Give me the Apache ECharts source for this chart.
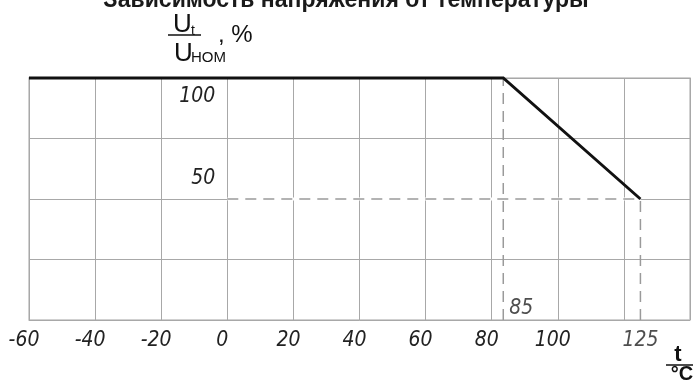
<!DOCTYPE html>
<html><head><meta charset="utf-8">
<script src="https://cdn.jsdelivr.net/npm/echarts@6/dist/echarts.min.js"></script>
<style>html,body{margin:0;padding:0;background:#fff}#c{width:696px;height:381px}</style>
</head><body><div id="c"></div>
<script>
// ---- data ----
const titleText = 'Зависимость напряжения от температуры';
const xMin = -60, xMax = 140, xStep = 20;
const yMin = 0, yMax = 100, yStep = 25;
const xHiddenTicks = [120, 140];
const yShownTicks = [50, 100];
const curveT = [-60, 83.5, 125];
const curveU = [100, 100, 50];
const guide50T = [0, 125];
const guide50U = [50, 50];
const guideKneeT = [83.5, 83.5];
const guideKneeU = [0, 100];
const guideEndT = [125, 125];
const guideEndU = [0, 50];
const noteT = [83.5, 125];
const noteU = [0, 0];
const noteText = ['85', '125'];

// ---- chart ----
const chart = echarts.init(document.getElementById('c'), null, {renderer: 'canvas'});
const G = {left: 29, right: 6, top: 78, bottom: 61};
const gridW = 696 - G.left - G.right;
const tickFont = {fontFamily: "'Liberation Sans Narrow','DejaVu Sans Condensed',sans-serif", fontStyle: 'italic', fontSize: 21, color: '#222'};
const sans = "'Liberation Sans',Arial,sans-serif";
const zip = (a, b) => a.map((v, i) => [v, b[i]]);
const guideStyle = {color: '#9a9a9a', width: 1.5, type: [11, 7]};

const option = {
  animation: false,
  grid: Object.assign({show: true, borderColor: '#c2c2c2', borderWidth: 1.5, containLabel: false}, G),
  xAxis: {
    type: 'value', min: xMin, max: xMax, interval: xStep,
    axisLine: {show: false}, axisTick: {show: false},
    splitLine: {show: true, lineStyle: {color: '#a8a8a8', width: 1}},
    axisLabel: Object.assign({
      margin: 10,
      showMinLabel: true, showMaxLabel: true,
      formatter: v => xHiddenTicks.includes(v) ? '' : '{l|' + v + '}',
      rich: {l: Object.assign({padding: [0, 10, 0, 0]}, tickFont)}
    }, tickFont)
  },
  yAxis: {
    type: 'value', min: yMin, max: yMax, interval: yStep,
    position: 'left',
    offset: -((0 - xMin) / (xMax - xMin)) * gridW,
    axisLine: {show: false, onZero: false}, axisTick: {show: false},
    splitLine: {show: true, lineStyle: {color: '#a8a8a8', width: 1}},
    axisLabel: Object.assign({
      margin: 12,
      showMinLabel: true, showMaxLabel: true,
      formatter: v => !yShownTicks.includes(v) ? '' : (v === yMax ? '{lo|' + v + '}' : '{hi|' + v + '}'),
      rich: {
        lo: Object.assign({padding: [38, 0, 0, 0]}, tickFont),
        hi: Object.assign({padding: [0, 0, 40, 0]}, tickFont)
      }
    }, tickFont)
  },
  series: [
    {type: 'line', data: zip(guide50T, guide50U), symbol: 'none', clip: false, silent: true,
     lineStyle: {color: '#ffffff', width: 3}, z: 2},
    {type: 'line', data: zip(guide50T, guide50U), symbol: 'none', clip: false, lineStyle: guideStyle, z: 3},
    {type: 'line', data: zip(guideKneeT, guideKneeU), symbol: 'none', clip: false, lineStyle: guideStyle, z: 3},
    {type: 'line', data: zip(guideEndT, guideEndU), symbol: 'none', clip: false, lineStyle: guideStyle, z: 3},
    {type: 'line', data: zip(curveT, curveU), symbol: 'none', clip: false,
     lineStyle: {color: '#111', width: 3, cap: 'butt', join: 'miter'}, z: 5},
    {type: 'scatter', symbolSize: 0, clip: false, z: 6,
     data: [
       {value: [noteT[0], noteU[0]], label: {show: true, formatter: noteText[0], position: 'right', distance: 6, offset: [0, -11]}},
       {value: [noteT[1], noteU[1]], label: {show: true, formatter: noteText[1], position: 'bottom', distance: 10}}
     ],
     label: Object.assign({show: true}, tickFont)
    }
  ],
  graphic: [
    {type: 'text', x: 346, y: 12, style: {text: titleText, fontFamily: sans, fontSize: 23, fontWeight: 'bold', fill: '#1a1a1a', align: 'center', verticalAlign: 'bottom'}},
    // y-axis name: U_t / U_ном , %
    {type: 'text', x: 173, y: 25, style: {text: 'U', fontFamily: sans, fontSize: 26, fill: '#111', verticalAlign: 'middle'}},
    {type: 'text', x: 191, y: 31, style: {text: 't', fontFamily: sans, fontSize: 14, fill: '#111', verticalAlign: 'middle'}},
    {type: 'line', shape: {x1: 168, y1: 35, x2: 201, y2: 35}, style: {stroke: '#111', lineWidth: 1.5}},
    {type: 'text', x: 174, y: 54, style: {text: 'U', fontFamily: sans, fontSize: 26, fill: '#111', verticalAlign: 'middle'}},
    {type: 'text', x: 191, y: 58, style: {text: 'НОМ', fontFamily: sans, fontSize: 15, fill: '#111', verticalAlign: 'middle'}},
    {type: 'text', x: 218, y: 35, style: {text: ', %', fontFamily: sans, fontSize: 24, fill: '#111', verticalAlign: 'middle'}},
    // x-axis name: t / °C
    {type: 'text', x: 678, y: 355, style: {text: 't', fontFamily: sans, fontSize: 22, fontWeight: 'bold', fill: '#111', align: 'center', verticalAlign: 'middle'}},
    {type: 'line', shape: {x1: 666, y1: 365, x2: 693, y2: 365}, style: {stroke: '#111', lineWidth: 1.5}},
    {type: 'text', x: 682, y: 374, style: {text: '°C', fontFamily: sans, fontSize: 20, fontWeight: 'bold', fill: '#111', align: 'center', verticalAlign: 'middle'}}
  ]
};
chart.setOption(option);
</script></body></html>
